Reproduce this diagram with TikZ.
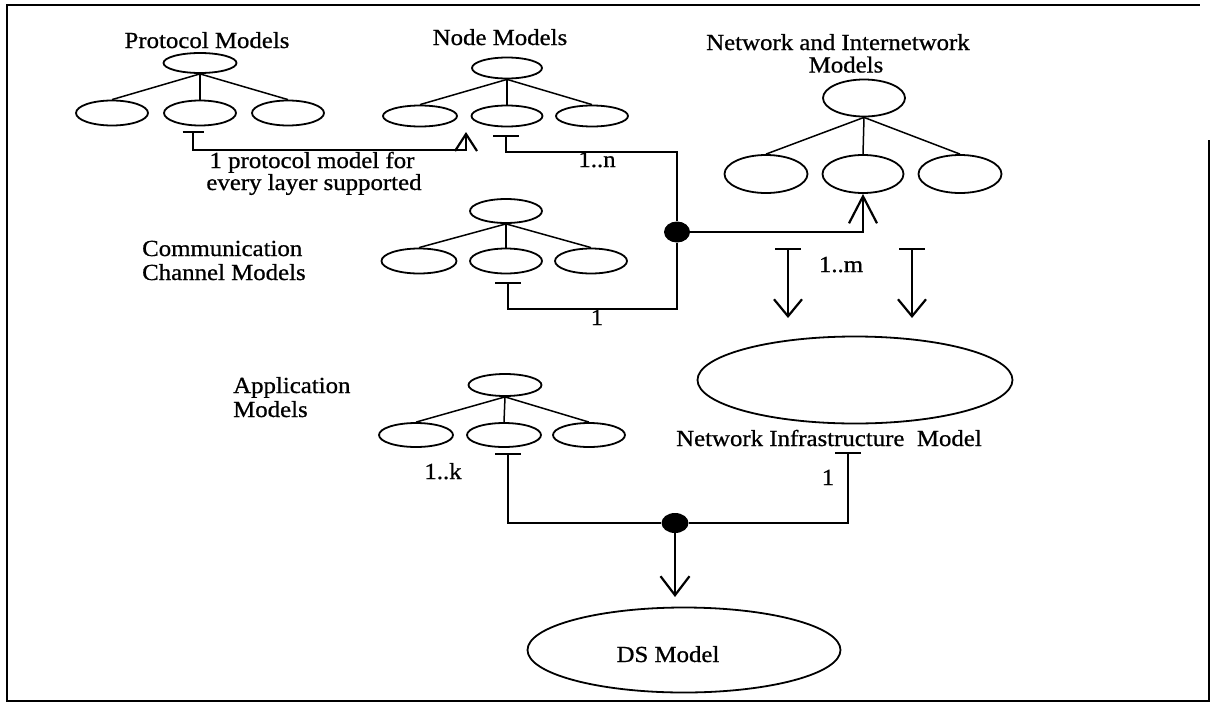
\documentclass[tikz,border=0pt]{standalone}
\usepackage{fontspec}
\setmainfont{Liberation Serif}[FakeStretch=1.08,FakeBold=0.8]
\usetikzlibrary{arrows.meta,shapes.geometric,calc}

\tikzset{
  barS/.tip={Bar[width=26pt,line width=2pt]},
  barbS/.tip={Straight Barb[length=17pt,width=28pt,line width=2.2pt]},
}

\begin{document}
\begin{tikzpicture}[x=1pt,y=-1pt,
  txt/.style={inner sep=0pt, font=\fontsize{23}{24}\selectfont},
  oval/.style 2 args={draw, ellipse, line width=1.8pt, inner sep=0pt,
                      minimum width=#1, minimum height=#2},
  branch/.style={line width=1.5pt},
  link/.style={line width=1.5pt},
  dot/.style={fill, ellipse, inner sep=0pt, minimum width=26pt, minimum height=21pt},
]
\useasboundingbox (0,0) rectangle (1212,715);

% outer frame
\draw[line width=2.2pt] (1209,140) -- (1209,701) -- (7,701) -- (7,5) -- (1200,5);

% ---- protocol models
\node[txt,anchor=base] (tP) at (207,48) {Protocol Models};
\node[oval={73}{20}] (p0) at (200,63) {};
\node[oval={72}{25}] (p1) at (112,113) {};
\node[oval={72}{25}] (p2) at (200,113) {};
\node[oval={72}{25}] (p3) at (288,113) {};
\foreach \c in {1,2,3} \draw[branch] (p0.south) -- (p\c.north);

% ---- node models
\node[txt,anchor=base] (tN) at (500,45) {Node Models};
\node[oval={70}{21}] (n0) at (507,68) {};
\node[oval={74}{21}] (n1) at (420,116) {};
\node[oval={71}{21}] (n2) at (507,116) {};
\node[oval={72}{21}] (n3) at (592,116) {};
\foreach \c in {1,2,3} \draw[branch] (n0.south) -- (n\c.north);

% ---- communication channel models
\node[txt,anchor=base west] (tC1) at (142,256) {Communication};
\node[txt,anchor=base west] (tC2) at (142,280) {Channel Models};
\node[oval={72}{24}] (c0) at (506,211) {};
\node[oval={75}{25}] (c1) at (419,261) {};
\node[oval={72}{25}] (c2) at (506,261) {};
\node[oval={72}{25}] (c3) at (591,261) {};
\foreach \c in {1,2,3} \draw[branch] (c0.south) -- (c\c.north);

% ---- network and internetwork models
\node[txt,anchor=base] (tW1) at (838,50) {Network and Internetwork};
\node[txt,anchor=base] (tW2) at (846,72.5) {Models};
\node[oval={82}{37}] (w0) at (864,98) {};
\node[oval={83}{38}] (w1) at (766,174) {};
\node[oval={81}{38}] (w2) at (863,174) {};
\node[oval={83}{38}] (w3) at (960,174) {};
\foreach \c in {1,2,3} \draw[branch] (w0.south) -- (w\c.north);

% ---- application models
\node[txt,anchor=base west] (tA1) at (233,393) {Application};
\node[txt,anchor=base west] (tA2) at (233,417) {Models};
\node[oval={73}{22}] (a0) at (505,385) {};
\node[oval={74}{24}] (a1) at (416,435) {};
\node[oval={74}{24}] (a2) at (504,435) {};
\node[oval={72}{24}] (a3) at (589,435) {};
\foreach \c in {1,2,3} \draw[branch] (a0.south) -- (a\c.north);

% ---- composite models
\node[oval={315}{87}] (ni) at (855,380) {};
\node[txt,anchor=base west] (tI) at (676,446) {Network Infrastructure\ \ Model};
\node[oval={313}{85}] (ds) at (684,650) {};
\node[txt,anchor=base] (tD) at (668,662) {DS Model};

% junctions
\node[dot] (j1) at (677,232) {};
\node[dot,minimum height=20pt,minimum width=27pt] (j2) at (675,523) {};

% protocol -> node models
\coordinate (pT) at (193,131);
\coordinate (pA) at (466,132);
\draw[link,{Bar[width=21pt,line width=2pt]}-{Straight Barb[length=17pt,width=22pt,line width=2.2pt]}]
  (pT) -- ++(0,19) -| (pA);
\node[txt,anchor=base] (tL1) at (312,168) {1 protocol model for};
\node[txt,anchor=base] (tL2) at (314,190) {every layer supported};

% node and channel models -> network models
\coordinate (nT) at (506,135);
\draw[link,barS-] (nT) -- ++(0,17) -| (j1);
\node[txt,anchor=base] (ln) at (597,167) {1..n};
\coordinate (cT) at (508,282);
\draw[link,barS-] (cT) -- ++(0,27) -| (j1);
\node[txt,anchor=base] (lc) at (597,325) {1};
\draw[link,-{Straight Barb[length=27pt,width=28pt,line width=2.2pt]}] (j1) -| (w2);

% network models -> network infrastructure model
\coordinate (mT1) at (788,248);
\coordinate (mE1) at (788,318);
\coordinate (mT2) at (912,248);
\coordinate (mE2) at (912,318);
\draw[link,barS-barbS] (mT1) -- (mE1);
\draw[link,barS-barbS] (mT2) -- (mE2);
\node[txt,anchor=base] (lm) at (841,272) {1..m};

% application + infrastructure -> DS model
\coordinate (aT) at (508,453);
\draw[link,barS-] (aT) |- (j2);
\node[txt,anchor=base] (lk) at (443,479) {1..k};
\coordinate (iT) at (848,452);
\draw[link,barS-] (iT) |- (j2);
\node[txt,anchor=base] (li) at (828,485) {1};
\coordinate (dA) at (675,597);
\draw[link,-{Straight Barb[length=19pt,width=29pt,line width=2.2pt]}] (j2) -- (dA);
\end{tikzpicture}
\end{document}
